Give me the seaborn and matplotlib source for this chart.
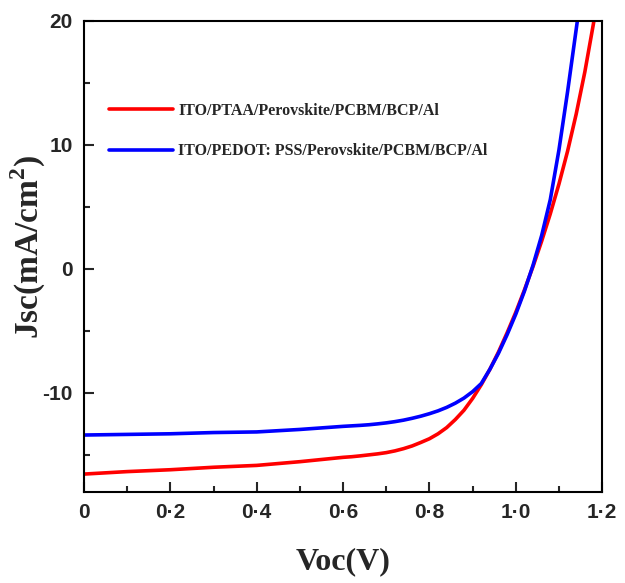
import pandas as pd
import matplotlib
matplotlib.use('Agg')
import matplotlib.pyplot as plt
from matplotlib.ticker import MultipleLocator
import seaborn as sns

# J-V curves
ptaa_v = [0, 0.1, 0.2, 0.3, 0.4, 0.5, 0.6, 0.62, 0.64, 0.66, 0.68, 0.7, 0.72,
          0.74, 0.76, 0.78, 0.8, 0.82, 0.84, 0.86, 0.88, 0.9, 0.92, 0.94, 0.96,
          0.98, 1.0, 1.02, 1.04, 1.06, 1.08, 1.1, 1.12, 1.14, 1.16, 1.18, 1.19]
ptaa_j = [-16.55, -16.35, -16.2, -16.0, -15.85, -15.55, -15.2, -15.15, -15.08,
          -15.0, -14.92, -14.82, -14.68, -14.5, -14.28, -14.0, -13.7, -13.3,
          -12.8, -12.15, -11.4, -10.45, -9.35, -8.1, -6.7, -5.15, -3.5, -1.7,
          0.2, 2.25, 4.45, 6.85, 9.5, 12.5, 15.9, 19.8, 22.0]

pedot_v = [0, 0.1, 0.2, 0.3, 0.4, 0.5, 0.6, 0.62, 0.64, 0.66, 0.68, 0.7, 0.72,
           0.74, 0.76, 0.78, 0.8, 0.82, 0.84, 0.86, 0.88, 0.9, 0.92, 0.94, 0.96,
           0.98, 1.0, 1.02, 1.04, 1.06, 1.08, 1.1, 1.12, 1.145]
pedot_j = [-13.4, -13.35, -13.3, -13.2, -13.15, -12.95, -12.7, -12.66, -12.62,
           -12.57, -12.5, -12.42, -12.32, -12.2, -12.05, -11.88, -11.68, -11.45,
           -11.17, -10.83, -10.42, -9.9, -9.25, -8.1, -6.8, -5.3, -3.65, -1.8,
           0.3, 2.7, 5.6, 9.6, 14.3, 20.6]

labels = ['ITO/PTAA/Perovskite/PCBM/BCP/Al',
          'ITO/PEDOT: PSS/Perovskite/PCBM/BCP/Al']
colors = ['#ff0000', '#0000ff']

x_ticks = [0, 0.2, 0.4, 0.6, 0.8, 1.0, 1.2]
x_tick_labels = ['0', '0\u00b72', '0\u00b74', '0\u00b76', '0\u00b78', '1\u00b70', '1\u00b72']
y_ticks = [-10, 0, 10, 20]
y_tick_labels = ['-10', '0', '10', '20']

df = pd.concat([
    pd.DataFrame({'V': ptaa_v, 'J': ptaa_j, 'device': labels[0]}),
    pd.DataFrame({'V': pedot_v, 'J': pedot_j, 'device': labels[1]}),
])

sns.set_style('ticks')
plt.rcParams['mathtext.fontset'] = 'custom'
plt.rcParams['mathtext.rm'] = 'Liberation Serif'
plt.rcParams['mathtext.bf'] = 'Liberation Serif:bold'

fig = plt.figure(figsize=(6.25, 5.83), dpi=100)
ax = fig.add_axes([0.1344, 0.156, 0.829, 0.808])

sns.lineplot(data=df, x='V', y='J', hue='device', palette=colors,
             hue_order=labels, sort=False, estimator=None, linewidth=2.6, ax=ax)

ax.set_xlim(0, 1.2)
ax.set_ylim(-18, 20)
ax.set_xticks(x_ticks)
ax.set_xticklabels(x_tick_labels)
ax.set_yticks(y_ticks)
ax.set_yticklabels(y_tick_labels)
ax.xaxis.set_minor_locator(MultipleLocator(0.1))
ax.yaxis.set_minor_locator(MultipleLocator(5))
ax.tick_params(which='both', direction='in', width=1.5, top=False, right=False)
ax.tick_params(which='major', length=7, pad=8)
ax.tick_params(which='minor', length=4)
for sp in ax.spines.values():
    sp.set_linewidth(1.5)
    sp.set_color('black')

tick_font = ['Liberation Sans Narrow', 'Liberation Sans', 'DejaVu Sans']
for t in ax.get_xticklabels() + ax.get_yticklabels():
    t.set_family(tick_font)
    t.set_fontweight('bold')
    t.set_fontsize(15)

ax.set_xlabel('Voc(V)', family='Liberation Serif', fontweight='bold',
              fontsize=23, labelpad=18)
ax.set_ylabel(r'Jsc(mA/cm$^{\mathbf{2}}$)', family='Liberation Serif',
              fontweight='bold', fontsize=24)
ax.yaxis.set_label_coords(-0.07, 0.52)

handles, _ = ax.get_legend_handles_labels()
ax.legend(handles, labels, loc='upper left', bbox_to_anchor=(0.02, 0.857),
          frameon=False, handlelength=4.0, handletextpad=0.35, labelspacing=1.55,
          prop={'family': 'Liberation Serif', 'weight': 'bold', 'size': 11.5})

fig.savefig('out.png', dpi=100)
